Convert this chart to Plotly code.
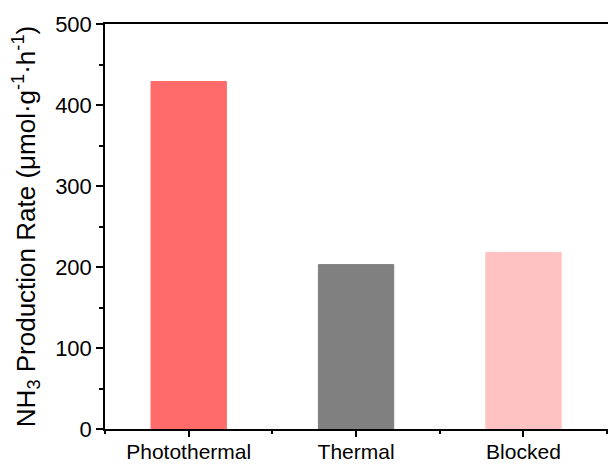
import plotly.graph_objects as go

categories = ["Photothermal", "Thermal", "Blocked"]
values = [429, 203, 218]
colors = ["#FF6B6B", "#808080", "#FFC2C2"]
y_ticks = [0, 100, 200, 300, 400, 500]

positions = list(range(len(categories)))

fig = go.Figure(go.Bar(
    x=positions, y=values, width=0.45,
    marker=dict(color=colors, line=dict(color=colors, width=1)),
))

font_family = "Liberation Sans, Arial, sans-serif"
fig.update_layout(
    width=608, height=465,
    margin=dict(l=105, r=0, t=24, b=36),
    paper_bgcolor="white", plot_bgcolor="white",
    showlegend=False,
    font=dict(family=font_family, size=22, color="black"),
)
fig.update_xaxes(
    range=[-0.5, 2.505], tickvals=positions, ticktext=categories,
    automargin=False,
    showgrid=False, zeroline=False,
    showline=True, linecolor="black", linewidth=1.5, mirror=True,
    ticks="outside", ticklen=6, tickwidth=1.5, tickcolor="black",
    minor=dict(tick0=0.5, dtick=1, ticks="outside", ticklen=3, tickwidth=1.5, tickcolor="black"),
    tickfont=dict(size=21), ticklabelstandoff=-3,
)
fig.update_yaxes(
    range=[0, 500], tickvals=y_ticks,
    automargin=False,
    showgrid=False, zeroline=False,
    showline=True, linecolor="black", linewidth=1.5,
    ticks="outside", ticklen=7, tickwidth=1.5, tickcolor="black",
    minor=dict(dtick=50, ticks="outside", ticklen=4, tickwidth=1.5, tickcolor="black"),
    tickfont=dict(size=22),
    title=dict(text="NH<sub>3</sub> Production Rate (μmol·g<sup>-1</sup>·h<sup>-1</sup>)",
               font=dict(size=26), standoff=12),
)
fig.write_html("out.html")
